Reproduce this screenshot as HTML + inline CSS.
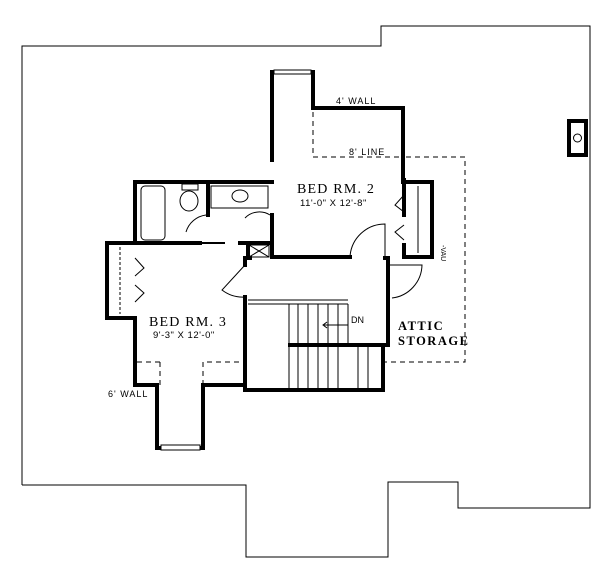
<!DOCTYPE html>
<html><head><style>body{margin:0;background:#fff}svg{display:block}</style></head><body>
<svg width="600" height="573" viewBox="0 0 600 573" xmlns="http://www.w3.org/2000/svg" font-family="Liberation Sans, sans-serif">
<rect width="600" height="573" fill="#fff"/>
<polyline fill="none" stroke="#000" stroke-width="1" points="22,485 22,46 381,46 381,26 590,26 590,508 458,508 458,482 388,482 388,557 246,557 246,485 22,485"/>
<rect x="569" y="121" width="17" height="34" fill="none" stroke="#000" stroke-width="4"/>
<circle cx="577.5" cy="138" r="4" fill="none" stroke="#000" stroke-width="1"/>
<g fill="none" stroke="#000" stroke-width="4" stroke-linecap="square">
<polyline points="272,160 272,72"/>
<polyline points="313,72 313,108 403,108 403,182 432,182 432,257 404,257 404,245"/>
<polyline points="272,215 272,257 350,257"/>
<polyline points="385,258 388,258 388,345"/>
<polyline points="272,182 135,182 135,243 200,243"/>
<polyline points="208,182 208,215"/>
<polyline points="240,243 272,243 272,257"/>
<polyline points="248,243 248,258"/>
<polyline points="135,243 107,243 107,318 135,318 135,385 157,385 157,448 203,448 203,385 245,385 245,297"/>
<polyline points="245,265 245,258 250,258"/>
<polyline points="245,385 245,390 383,390 383,345 388,345"/>
<polyline points="290,345 383,345"/>
<polyline points="404,180 404,215"/>
</g>
<rect x="274" y="70" width="37" height="4" fill="#fff" stroke="#000" stroke-width="1"/>
<rect x="161" y="445" width="39" height="5" fill="#fff" stroke="#000" stroke-width="1"/>
<g stroke="#000" stroke-width="1" fill="none">
<line x1="418" y1="186" x2="418" y2="253"/>
<line x1="120" y1="247" x2="120" y2="314" stroke-dasharray="3,2"/>
<polyline points="404,195 395,205 404,212"/>
<polyline points="404,225 395,232 404,240"/>
<polyline points="135,258 144,268 135,276"/>
<polyline points="135,285 144,293 135,302"/>
<path d="M350,257 A35,35 0 0 1 385,224 L385,257"/>
<path d="M388,265 L422,265 A34,34 0 0 1 392,298"/>
<path d="M245,265 L222,290 A34,34 0 0 0 245,297"/>
<path d="M245,218 A20,20 0 0 1 270,215"/>
<path d="M186,232 A24,24 0 0 1 206,215"/>
<rect x="141" y="186" width="24" height="54" rx="4"/>
<ellipse cx="189" cy="201" rx="9" ry="10"/>
<rect x="182" y="184" width="16" height="6"/>
<rect x="211" y="186" width="57" height="22"/>
<ellipse cx="240" cy="196" rx="8" ry="6"/>
<rect x="249" y="245" width="20" height="12"/>
<line x1="249" y1="245" x2="269" y2="257"/><line x1="269" y1="245" x2="249" y2="257"/>
<line x1="190" y1="243" x2="225" y2="243" stroke-width="2"/>
<line x1="248" y1="300" x2="348" y2="300"/>
<line x1="248" y1="304" x2="348" y2="304"/>
<line x1="289" y1="304" x2="289" y2="388"/><line x1="298" y1="304" x2="298" y2="388"/>
<line x1="308" y1="304" x2="308" y2="388"/><line x1="318" y1="304" x2="318" y2="388"/>
<line x1="328" y1="304" x2="328" y2="388"/><line x1="338" y1="304" x2="338" y2="388"/>
<line x1="348" y1="304" x2="348" y2="344"/><line x1="358" y1="347" x2="358" y2="388"/>
<line x1="368" y1="347" x2="368" y2="388"/>
<line x1="324" y1="325" x2="348" y2="325"/>
<polyline points="327,322 323,325 327,328"/>
<line x1="348" y1="314" x2="348" y2="330"/>
<g stroke-dasharray="5,4">
<polyline points="313,112 313,157 400,157"/>
<polyline points="406,157 465,157 465,362 383,362"/>
<line x1="137" y1="362" x2="160" y2="362"/>
<line x1="160" y1="362" x2="160" y2="385"/>
<polyline points="203,385 203,362 245,362"/>
</g>
<line x1="433" y1="238" x2="433" y2="258" stroke-width="2"/>
</g>
<g fill="#000">
<text x="297" y="193" font-family="Liberation Serif, serif" font-size="14" letter-spacing="1.2">BED RM. 2</text>
<text x="300" y="206" font-size="9.5" letter-spacing="0.5">11'-0" X 12'-8"</text>
<text x="149" y="326" font-family="Liberation Serif, serif" font-size="14" letter-spacing="1.2">BED RM. 3</text>
<text x="153" y="338" font-size="9.5" letter-spacing="0.5">9'-3" X 12'-0"</text>
<text x="398" y="330" font-family="Liberation Serif, serif" font-size="12.5" font-weight="bold" letter-spacing="1.5">ATTIC</text>
<text x="398" y="345" font-family="Liberation Serif, serif" font-size="12.5" font-weight="bold" letter-spacing="1.5">STORAGE</text>
<text x="336" y="104" font-size="9" letter-spacing="1">4' WALL</text>
<text x="349" y="155" font-size="9" letter-spacing="1">8' LINE</text>
<text x="108" y="397" font-size="9" letter-spacing="1">6' WALL</text>
<text x="351" y="323" font-size="9">DN</text>
<text x="441" y="245" font-size="7" transform="rotate(90 441 245)">-VAU</text>
</g>
</svg>
</body></html>
